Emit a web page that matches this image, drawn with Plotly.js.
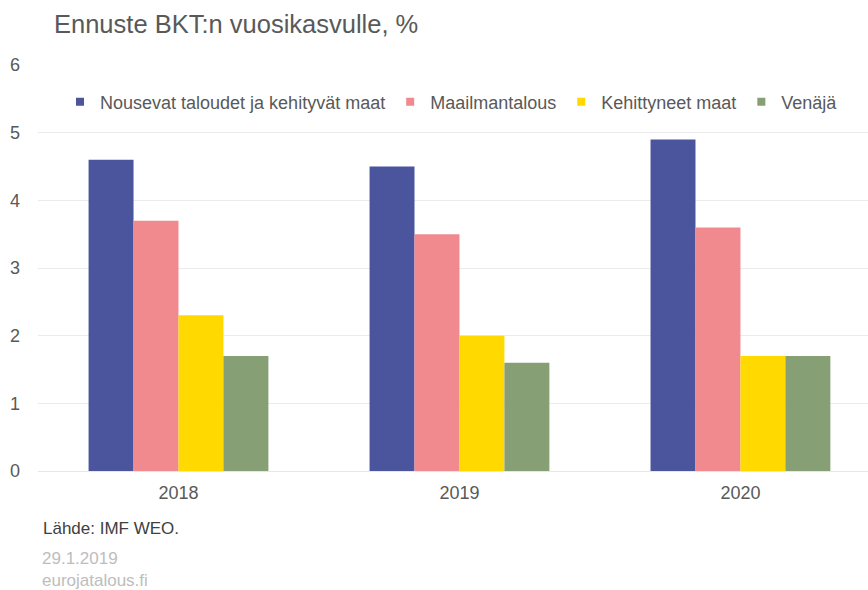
<!DOCTYPE html>
<html><head><meta charset="utf-8">
<script src="https://cdn.plot.ly/plotly-3.0.1.min.js"></script>
<style>html,body{margin:0;padding:0;background:#fff;}#chart{width:868px;height:590px;}</style>
</head><body><div id="chart"></div>
<script>
const categories = ["2018", "2019", "2020"];
const seriesNames = ["Nousevat taloudet ja kehityvät maat", "Maailmantalous", "Kehittyneet maat", "Venäjä"];
const emerging = [4.6, 4.5, 4.9];
const world = [3.7, 3.5, 3.6];
const advanced = [2.3, 2.0, 1.7];
const russia = [1.7, 1.6, 1.7];
const colors = ["#4B559E", "#F08A8F", "#FFD900", "#879F75"];
const yTicks = [0, 1, 2, 3, 4, 5, 6];

const values = [emerging, world, advanced, russia];
const bars = values.map((v, i) => ({
  type: "bar", x: categories, y: v, name: seriesNames[i], legendgroup: "g" + i, showlegend: false,
  marker: {color: colors[i], line: {width: 0}}, hoverinfo: "y+name"
}));
// legend entries with small square symbols, linked to the bar traces
const legendEntries = seriesNames.map((n, i) => ({
  type: "scatter", mode: "markers", x: [null], y: [null], name: n, legendgroup: "g" + i, showlegend: true,
  marker: {symbol: "square", size: 8, color: colors[i]}, hoverinfo: "skip"
}));

const grey = "#595959";
const layout = {
  width: 868, height: 590,
  margin: {l: 38, r: 0, t: 65, b: 119, pad: 0},
  paper_bgcolor: "#fff", plot_bgcolor: "#fff",
  font: {family: "Liberation Sans, Arial, sans-serif", color: grey, size: 18},
  title: {text: "Ennuste BKT:n vuosikasvulle, %", x: 54/868, xanchor: "left", y: 1 - 24/590, yanchor: "middle",
          font: {size: 25.5, color: grey}},
  barmode: "group", bargap: 0.36, bargroupgap: 0,
  xaxis: {type: "category", range: [-0.5, 2.454], showgrid: false, zeroline: false, showline: false,
          ticks: "outside", ticklen: 5, tickcolor: "rgba(0,0,0,0)", tickfont: {size: 18, color: grey}, fixedrange: true},
  yaxis: {range: [0, 6], tickvals: yTicks, ticktext: yTicks.map(String), showgrid: true, gridcolor: "#ebebeb", gridwidth: 1,
          zeroline: true, zerolinecolor: "#e6e6e6", zerolinewidth: 1, showline: false,
          ticklabelstandoff: 17, tickfont: {size: 18, color: grey}, fixedrange: true},
  showlegend: true,
  legend: {orientation: "h", x: (60 - 38) / 830, xanchor: "left", y: (471 - 102) / 406, yanchor: "middle",
           bgcolor: "rgba(0,0,0,0)", font: {size: 18, color: grey}, itemwidth: 30, traceorder: "normal"},
  annotations: [
    {text: "Lähde: IMF WEO.", xref: "paper", yref: "paper", x: 3/830, y: -(528 - 471) / 406, xanchor: "left", yanchor: "middle",
     showarrow: false, font: {size: 17, color: "#404040"}},
    {text: "29.1.2019<br>eurojatalous.fi", xref: "paper", yref: "paper", x: 3/830, y: -(569 - 471) / 406, xanchor: "left", yanchor: "middle",
     align: "left", showarrow: false, borderpad: 0, font: {size: 17, color: "#bdbdbd"}}
  ]
};
Plotly.newPlot("chart", bars.concat(legendEntries), layout, {displayModeBar: false, staticPlot: true});
</script></body></html>
